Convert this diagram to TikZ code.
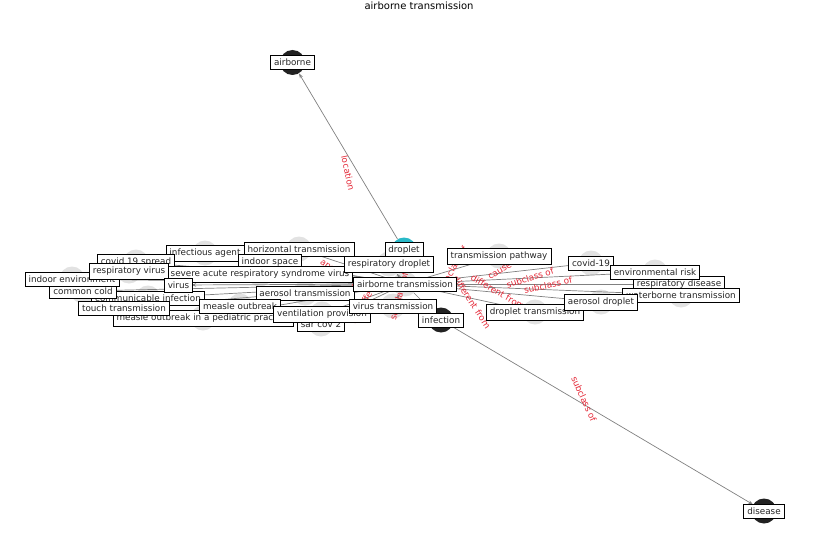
\documentclass[tikz,border=0pt]{standalone}
\usepackage{fontspec}
\setmainfont{DejaVu Sans}
\usetikzlibrary{arrows.meta}
\definecolor{lightc}{RGB}{226,226,226}
\definecolor{darkc}{RGB}{34,34,34}
\definecolor{cyanc}{RGB}{40,185,200}
\definecolor{edgec}{RGB}{128,128,128}
\definecolor{labc}{RGB}{228,40,55}
\begin{document}
\begin{tikzpicture}[x=1pt,y=-1pt,
  vtx/.style={circle,minimum size=25pt,inner sep=0pt,fill=lightc,draw=none},
  vdark/.style={vtx,fill=darkc},
  vcyan/.style={vtx,fill=cyanc},
  lbl/.style={draw=black,fill=white,line width=0.7pt,inner xsep=3.5pt,inner ysep=3.6pt,
    font=\fontsize{8.8}{10}\selectfont,text=black!85},
  elab/.style={text=labc,font=\fontsize{8.8}{10}\selectfont,inner sep=0pt},
  edge/.style={draw=edgec,line width=0.7pt,-{Stealth[length=5pt,width=3.5pt]}}
]
\useasboundingbox (0,0) rectangle (837,559);
\node[font=\fontsize{10}{12}\selectfont] (title) at (419,6) {airborne transmission};
% vertices
\node[vdark] (air) at (292.5,62.5) {};
\node[vcyan] (drp) at (404,250) {};
\node[vtx] (hor) at (299,249) {};
\node[vtx] (iag) at (205,253) {};
\node[vtx] (c19s) at (136,262) {};
\node[vtx] (isp) at (270,262) {};
\node[vtx] (rdr) at (389,264) {};
\node[vtx] (tpw) at (499,256) {};
\node[vtx] (cov) at (591,263) {};
\node[vtx] (env) at (655,272) {};
\node[vtx] (rvi) at (129,271) {};
\node[vtx] (sar) at (260,274) {};
\node[vtx] (ien) at (72,279) {};
\node[vtx] (at) at (405,284) {};
\node[vtx] (rdi) at (679,284) {};
\node[vtx] (cco) at (83,291) {};
\node[vtx] (vir) at (178.5,285) {};
\node[vtx] (aet) at (305,293) {};
\node[vtx] (wat) at (681,295) {};
\node[vtx] (com) at (148,298) {};
\node[vtx] (aed) at (601,302) {};
\node[vtx] (mea) at (240,306) {};
\node[vtx] (vtr) at (393,306) {};
\node[vtx] (tou) at (124,308) {};
\node[vtx] (dtr) at (535,312) {};
\node[vtx] (ven) at (322,314) {};
\node[vtx] (mep) at (203,318) {};
\node[vdark] (inf) at (441,320) {};
\node[vtx] (sc2) at (321,324) {};
\node[vdark] (dis) at (764,511) {};
% edges
\draw[edge] (drp) -- (air);
\draw[edge] (inf) -- (dis);
\foreach \t in {hor,iag,c19s,isp,rdr,tpw,cov,env,rvi,sar,ien,rdi,cco,vir,aet,wat,com,aed,mea,vtr,tou,dtr,ven,mep,inf,sc2,drp}
  \draw[edge] (at) -- (\t);
% edge labels
\node[elab,rotate=-78] (l1) at (348,173) {location};
\node[elab,rotate=-66] (l2) at (584,399) {subclass of};
\node[elab,rotate=30] (l3) at (500,271) {cause};
\node[elab,rotate=60] (l4) at (453,268) {subclass of};
\node[elab,rotate=17] (l5) at (530,278) {subclass of};
\node[elab,rotate=12] (l6) at (548,285) {subclass of};
\node[elab,rotate=-30] (l7) at (498,292) {different from};
\node[elab,rotate=-57] (l8) at (472,302) {different from};
\node[elab,rotate=-35] (l9) at (340,275) {appears in};
\node[elab,rotate=75] (l10) at (399,296) {subclass of};
\node[elab,rotate=60] (l11) at (363,304) {has effect};
% label boxes
\node[lbl] (Lhor) at (hor) {horizontal transmission};
\node[lbl] (Liag) at (iag) {infectious agent};
\node[lbl] (Lisp) at (isp) {indoor space};
\node[lbl] (Lc19s) at (c19s) {covid 19 spread};
\node[lbl] (Lsar) at (sar) {severe acute respiratory syndrome virus};
\node[lbl] (Lcom) at (com) {communicable infection};
\node[lbl] (Lcco) at (cco) {common cold};
\node[lbl] (Lien) at (ien) {indoor environment};
\node[lbl] (Lrvi) at (rvi) {respiratory virus};
\node[lbl] (Lvir) at (vir) {virus};
\node[lbl] (Lmep) at (mep) {measle outbreak in a pediatric practice};
\node[lbl] (Ltou) at (tou) {touch transmission};
\node[lbl] (Laet) at (aet) {aerosol transmission};
\node[lbl] (Lmea) at (mea) {measle outbreak};
\node[lbl] (Lsc2) at (sc2) {sar cov 2};
\node[lbl] (Lven) at (ven) {ventilation provision};
\node[lbl] (Ldrp) at (drp) {droplet};
\node[lbl] (Lrdr) at (rdr) {respiratory droplet};
\node[lbl] (Lat) at (at) {airborne transmission};
\node[lbl] (Lvtr) at (vtr) {virus transmission};
\node[lbl] (Linf) at (inf) {infection};
\node[lbl] (Ltpw) at (tpw) {transmission pathway};
\node[lbl] (Lcov) at (cov) {covid-19};
\node[lbl] (Lrdi) at (rdi) {respiratory disease};
\node[lbl] (Lwat) at (wat) {waterborne transmission};
\node[lbl] (Lenv) at (env) {environmental risk};
\node[lbl] (Ldtr) at (dtr) {droplet transmission};
\node[lbl] (Laed) at (aed) {aerosol droplet};
\node[lbl] (Lair) at (air) {airborne};
\node[lbl] (Ldis) at (dis) {disease};
\end{tikzpicture}
\end{document}
